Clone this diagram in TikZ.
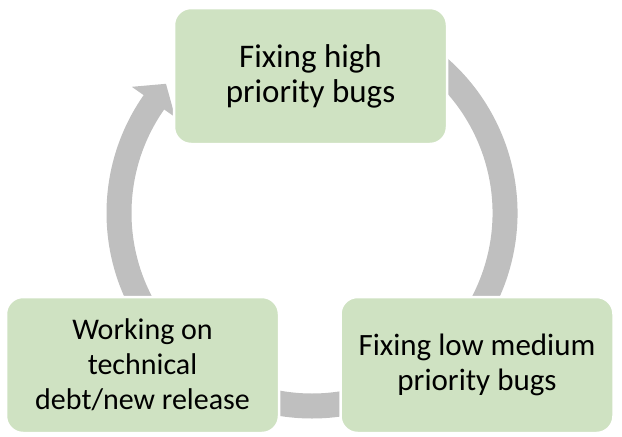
\documentclass[tikz,border=0pt]{standalone}
\usepackage{fontspec}
\setmainfont{Carlito}
\definecolor{boxgreen}{RGB}{207,226,194}
\definecolor{ringgray}{RGB}{191,191,191}
\begin{document}
\begin{tikzpicture}[x=1pt,y=-1pt,
  stagebox/.style={rectangle, rounded corners=17pt, fill=boxgreen, draw=white,
    line width=2.5pt, minimum width=273pt, minimum height=136pt, align=center,
    inner sep=0pt, font=\fontsize{31}{35}\selectfont, text=black},
  ring/.style={draw=ringgray, line width=25pt, line cap=butt}]
\useasboundingbox (0,0) rectangle (622,437);
\coordinate (c) at (312,213);
% ring segments
\draw[ring] ([shift={(290:193)}]c) arc[start angle=290, end angle=420, radius=193];
\draw[ring] ([shift={(70:193)}]c) arc[start angle=70, end angle=110, radius=193];
\draw[ring] ([shift={(150:193)}]c) arc[start angle=150, end angle=215.5, radius=193];
\fill[ringgray] ([shift={(215:167)}]c) -- ([shift={(215:220)}]c) -- ([shift={(221.5:195)}]c) -- cycle;
% boxes
\node[stagebox, font=\fontsize{33}{35}\selectfont] (top) at (310.5,76) {Fixing high\\priority bugs};
\node[stagebox] (rgt) at (477,365) {Fixing low medium\\priority bugs};
\node[stagebox, font=\fontsize{30}{35}\selectfont] (lft) at (142.5,365) {Working on\\technical\\debt/new release};
\end{tikzpicture}
\end{document}
